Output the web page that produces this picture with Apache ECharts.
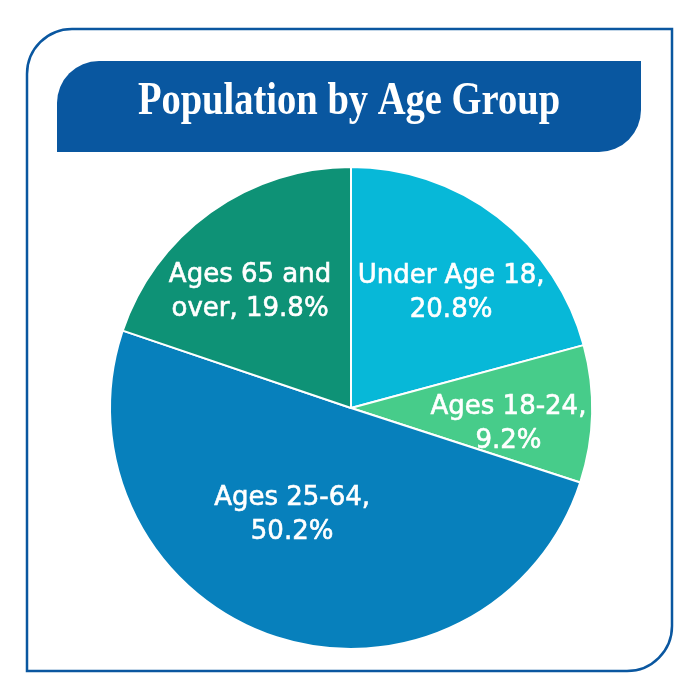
<!DOCTYPE html>
<html>
<head>
<meta charset="utf-8">
<script src="https://cdn.jsdelivr.net/npm/echarts@6/dist/echarts.min.js"></script>
<style>html,body{margin:0;padding:0;background:#fff;}#c{width:700px;height:700px;}</style>
</head>
<body>
<div id="c"></div>
<script>
const titleText = 'Population by Age Group';
const categories = ['Under Age 18', 'Ages 18-24', 'Ages 25-64', 'Ages 65 and over'];
const labelTexts = ['Under Age 18,\n20.8%', 'Ages 18-24,\n9.2%', 'Ages 25-64,\n50.2%', 'Ages 65 and\nover, 19.8%'];
const values = [20.8, 9.2, 50.2, 19.8];
const colors = ['#07b8d8', '#47cc8a', '#0780bc', '#0e9276'];
const labelOffsets = [[25, -17], [34, 13], [-20, -10], [-29, -15]];

const chart = echarts.init(document.getElementById('c'));
const data = categories.map((name, i) => ({
  name: name,
  value: values[i],
  itemStyle: { color: colors[i] },
  label: { offset: labelOffsets[i], formatter: labelTexts[i] }
}));

chart.setOption({
  animation: false,
  graphic: [
    { type: 'rect', z: 0, shape: { x: 27, y: 29, width: 645, height: 642, r: [45, 0, 45, 0] },
      style: { fill: 'none', stroke: '#0a57a0', lineWidth: 2.5 } },
    { type: 'rect', z: 1, shape: { x: 57, y: 61, width: 584, height: 91, r: [42, 0, 42, 0] },
      style: { fill: '#0957a0' } },
    { type: 'text', z: 2, x: 349, y: 102, scaleX: 0.82,
      style: { text: titleText, fill: '#ffffff', font: 'bold 47px "Liberation Serif"', align: 'center', verticalAlign: 'middle' } }
  ],
  series: [{
    type: 'pie',
    center: [351, 408],
    radius: 241,
    startAngle: 90,
    clockwise: true,
    silent: true,
    itemStyle: { borderColor: '#ffffff', borderWidth: 2 },
    label: {
      position: 'inside',
      color: '#ffffff',
      fontFamily: 'DejaVu Sans',
      fontWeight: 'normal',
      fontSize: 26,
      lineHeight: 34,
      textBorderColor: '#ffffff',
      textBorderWidth: 0.6,
      align: 'center'
    },
    labelLine: { show: false },
    data: data
  }]
});
</script>
</body>
</html>
